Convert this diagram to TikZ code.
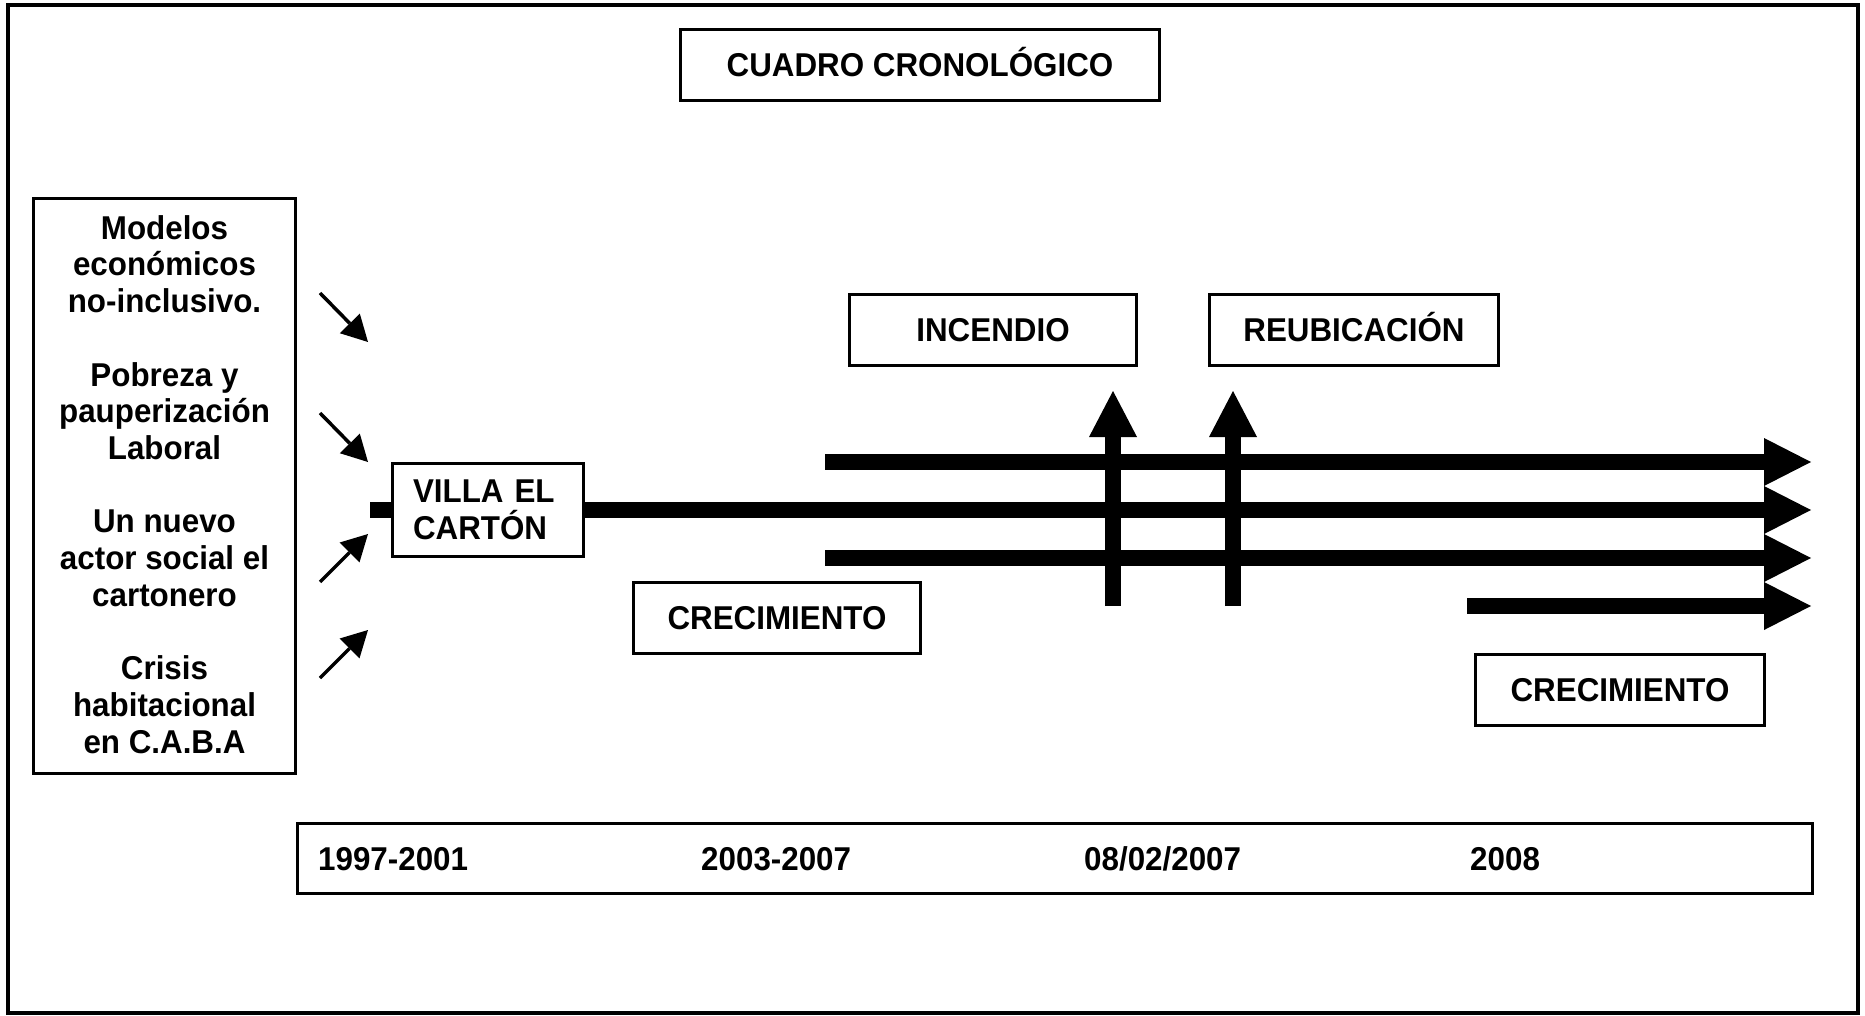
\documentclass[tikz,border=0pt]{standalone}
\usepackage{fontspec}
\setmainfont[FakeStretch=0.95]{Liberation Sans}
\usetikzlibrary{arrows.meta}
\begin{document}
\begin{tikzpicture}[x=1pt,y=-1pt,
  txt/.style={font=\bfseries\fontsize{33}{36.7}\selectfont},
  box/.style={draw, line width=3.5pt, fill=white, txt, inner sep=0pt},
  single/.style={text height=23.5pt, text depth=0pt},
  lbl/.style={txt, inner sep=0pt},
  bar/.style={line width=16pt, -{Triangle[length=47pt,width=48pt,line width=0pt]}},
  vbar/.style={line width=16pt, -{Triangle[length=46pt,width=48pt,line width=0pt]}},
  small/.style={line width=3.5pt, -{Triangle[length=26pt,width=28pt,line width=0pt]}}]
\useasboundingbox (0,0) rectangle (1865,1016);
\draw[line width=3.5pt] (8,5) rectangle (1858,1013);

% coordinates for timeline bars
\coordinate (stub) at (370,510);
\coordinate (m1) at (1811,510);
\coordinate (u0) at (825,462);
\coordinate (u1) at (1811,462);
\coordinate (l0) at (825,558);
\coordinate (l1) at (1811,558);
\coordinate (g0) at (1467,606);
\coordinate (g1) at (1811,606);
\coordinate (i0) at (1113,606);
\coordinate (i1) at (1113,391);
\coordinate (r0) at (1233,606);
\coordinate (r1) at (1233,391);

% bars
\draw[bar] (u0) -- (u1);
\draw[bar] (l0) -- (l1);
\draw[bar] (g0) -- (g1);
\draw[vbar] (i0) -- (i1);
\draw[vbar] (r0) -- (r1);

% boxes
\node[box, single, minimum width=479pt, minimum height=71pt] (title) at (920,65) {CUADRO CRONOLÓGICO};
\node[box, single, minimum width=287pt, minimum height=71pt] (incendio) at (993,330) {INCENDIO};
\node[box, single, minimum width=289pt, minimum height=71pt] (reubic) at (1354,330) {REUBICACIÓN};
\node[box, single, minimum width=287pt, minimum height=71pt] (crec1) at (777,618) {CRECIMIENTO};
\node[box, single, minimum width=289pt, minimum height=71pt] (crec2) at (1620,690) {CRECIMIENTO};
\node[box, minimum width=262pt, minimum height=575pt] (causes) at (164.5,486) {};
\node[lbl, align=center, anchor=base] (causestxt) at (164.5,753) {Modelos\\económicos\\no-inclusivo.\\[36.7pt]Pobreza y\\pauperización\\Laboral\\[36.7pt]Un nuevo\\actor social el\\cartonero\\[36.7pt]Crisis\\habitacional\\en C.A.B.A};
\node[box, minimum width=191pt, minimum height=93pt, text width=150pt, align=left] (villa) at (488,510) {VILLA EL\\CARTÓN};
\node[box, minimum width=1515pt, minimum height=70pt] (dates) at (1055,858.5) {};
\node[lbl, anchor=base west] (d1) at (318,870) {1997-2001};
\node[lbl, anchor=base west] (d2) at (701,870) {2003-2007};
\node[lbl, anchor=base west] (d3) at (1084,870) {08/02/2007};
\node[lbl, anchor=base west] (d4) at (1470,870) {2008};

% main bar through villa
\draw[line width=16pt] (stub) -- (villa.west);
\draw[bar] (villa.east) -- (m1);

% small cause arrows
\coordinate (a1s) at (320,293); \coordinate (a1e) at (368,342);
\coordinate (a2s) at (320,413); \coordinate (a2e) at (368,462);
\coordinate (a3s) at (320,582); \coordinate (a3e) at (368,534);
\coordinate (a4s) at (320,678); \coordinate (a4e) at (368,630);
\draw[small] (a1s) -- (a1e);
\draw[small] (a2s) -- (a2e);
\draw[small] (a3s) -- (a3e);
\draw[small] (a4s) -- (a4e);
\end{tikzpicture}
\end{document}
